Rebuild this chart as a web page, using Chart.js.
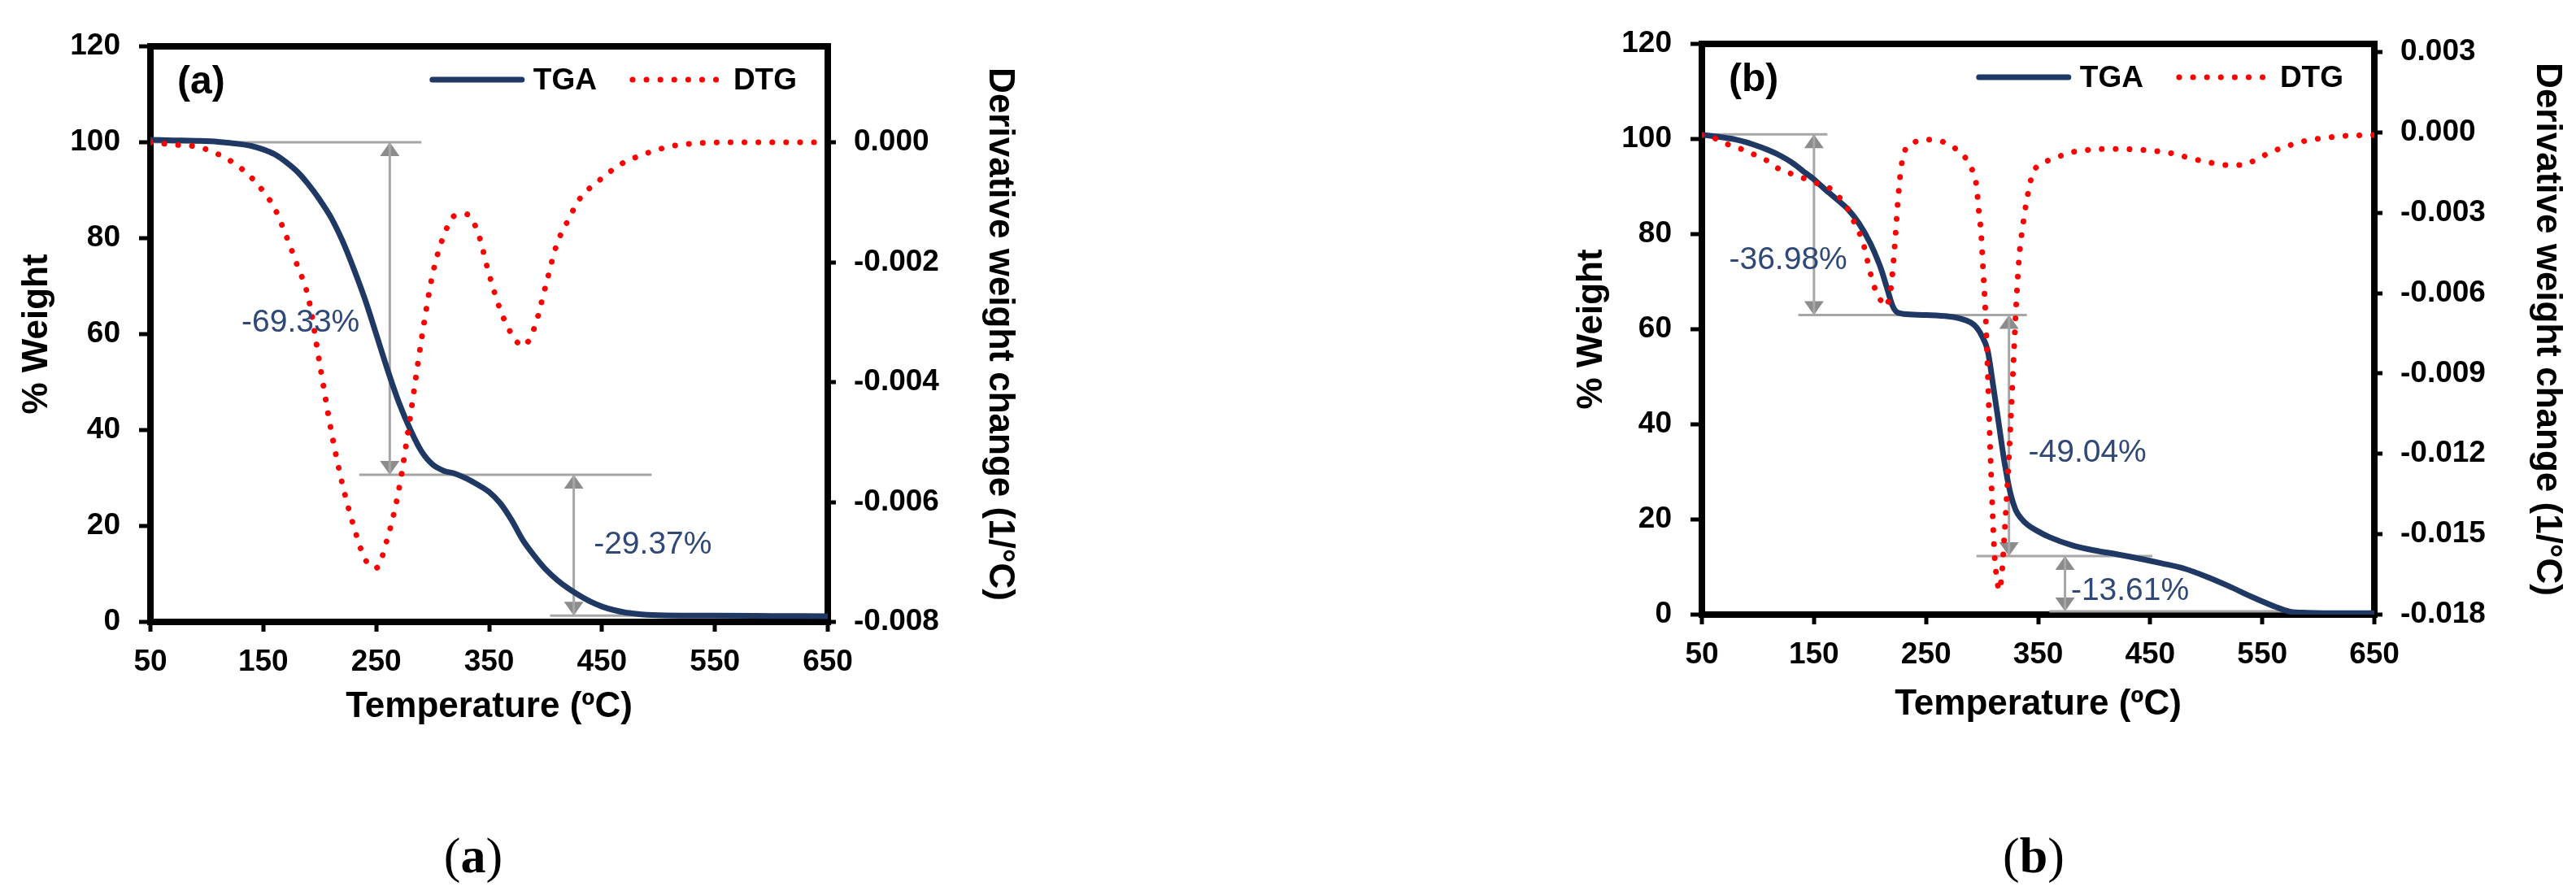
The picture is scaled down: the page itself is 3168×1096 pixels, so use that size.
<!DOCTYPE html>
<html>
<head>
<meta charset="utf-8">
<script src="https://cdn.jsdelivr.net/npm/chart.js@4.4.1/dist/chart.umd.min.js"></script>
<style>
  html, body { margin: 0; padding: 0; background: #fff; }
  body { width: 3168px; height: 1096px; position: relative; overflow: hidden; }
  canvas { position: absolute; top: 0; }
  #chartA { left: 0; }
  #chartB { left: 1908px; }
  .sub { position: absolute; top: 1012px; width: 200px; margin-left: -100px; text-align: center;
         font-family: "Liberation Serif", "Times New Roman", serif; font-size: 62px; line-height: 80px; color: #000; }
</style>
</head>
<body>
<canvas id="chartA" width="1300" height="960"></canvas>
<canvas id="chartB" width="1260" height="960"></canvas>
<div class="sub" style="left:582px">(<b>a</b>)</div>
<div class="sub" style="left:2501px">(<b>b</b>)</div>
<script>
// axis ticks
const tempTicks = [50, 150, 250, 350, 450, 550, 650];
const weightTicks = [0, 20, 40, 60, 80, 100, 120];
const derivTicksA = [-0.008, -0.006, -0.004, -0.002, 0.000];
const derivTicksB = [-0.018, -0.015, -0.012, -0.009, -0.006, -0.003, 0.000, 0.003];

// (a) TGA, % weight vs temperature
const tgaTempA = [50, 70, 90, 110, 130, 140, 150, 160, 170, 180, 190, 200, 210, 220, 230, 240, 250, 260, 270, 280, 290, 300, 310, 320, 330, 340, 350, 360, 370, 380, 390, 400, 410, 420, 430, 440, 450, 460, 470, 480, 490, 500, 550, 600, 650];
const tgaA = [100.5, 100.4, 100.3, 100.1, 99.6, 99.2, 98.5, 97.5, 95.9, 93.9, 91.2, 88.0, 84.3, 79.5, 73.7, 67.3, 60.0, 52.6, 45.8, 40.2, 35.6, 32.8, 31.5, 30.9, 29.9, 28.6, 27.1, 24.7, 21.2, 17.0, 13.8, 11.0, 8.8, 7.0, 5.5, 4.2, 3.2, 2.5, 2.0, 1.7, 1.5, 1.4, 1.3, 1.25, 1.2];

// (a) DTG, 1/°C
const dtgTempA = [50, 60, 70, 80, 90, 100, 110, 120, 130, 140, 150, 160, 170, 180, 190, 200, 210, 220, 230, 240, 250, 260, 270, 280, 290, 300, 310, 320, 330, 340, 350, 360, 370, 380, 390, 400, 410, 420, 430, 440, 450, 460, 470, 480, 490, 500, 510, 520, 540, 560, 650];
const dtgA = [0, -0.00002, -0.00004, -0.00005, -0.00007, -0.00012, -0.0002, -0.0003, -0.00043, -0.0006, -0.00082, -0.0011, -0.00155, -0.00205, -0.0026, -0.0037, -0.0048, -0.0057, -0.0064, -0.00695, -0.0071, -0.0066, -0.0058, -0.0046, -0.0033, -0.0022, -0.00155, -0.00122, -0.0012, -0.0015, -0.0022, -0.0028, -0.0032, -0.0034, -0.0031, -0.0024, -0.0017, -0.0013, -0.00095, -0.00075, -0.0006, -0.00045, -0.00033, -0.00025, -0.00018, -0.00012, -0.00007, -0.00004, -0.00001, 0, 0];

// (b) TGA
const tgaTempB = [50, 60, 70, 80, 90, 100, 110, 120, 130, 140, 150, 160, 170, 180, 190, 200, 205, 210, 215, 220, 223, 226, 230, 250, 270, 280, 290, 295, 300, 305, 310, 315, 320, 325, 330, 335, 340, 350, 360, 380, 400, 420, 440, 460, 480, 500, 520, 540, 560, 575, 590, 620, 650];
const tgaB = [100.9, 100.6, 100.3, 99.9, 99.3, 98.5, 97.6, 96.5, 95.1, 93.3, 91.5, 89.4, 87.4, 85.3, 82.3, 78.2, 75.6, 72.6, 68.8, 65.0, 63.8, 63.4, 63.2, 63.0, 62.7, 62.3, 61.4, 60.4, 58.5, 55.5, 48.0, 40.0, 32.0, 25.8, 22.0, 20.2, 19.0, 17.5, 16.3, 14.6, 13.5, 12.7, 11.8, 10.8, 9.7, 8.0, 6.0, 3.8, 1.8, 0.6, 0.4, 0.3, 0.3];

// (b) DTG
const dtgTempB = [50, 60, 70, 80, 90, 100, 110, 120, 130, 140, 150, 160, 166, 172, 178, 184, 190, 195, 200, 205, 210, 214, 217, 219, 221, 223, 225, 227, 229, 232, 238, 245, 252, 260, 268, 276, 286, 292, 295, 297, 299, 301, 303, 305, 307, 309, 311, 313, 315.5, 318, 320, 322, 324, 327, 330, 333, 336, 340, 345, 352, 365, 375, 385, 395, 410, 430, 450, 465, 480, 500, 522, 535, 545, 560, 572, 585, 600, 625, 650];
const dtgB = [-0.0001, -0.0002, -0.0004, -0.00055, -0.0007, -0.0009, -0.0011, -0.0014, -0.00155, -0.0017, -0.00187, -0.002, -0.00214, -0.0024, -0.0027, -0.0032, -0.0037, -0.0043, -0.0052, -0.0059, -0.0063, -0.0065, -0.0062, -0.0057, -0.0048, -0.0037, -0.0025, -0.0016, -0.001, -0.0006, -0.0004, -0.0003, -0.00027, -0.0003, -0.0004, -0.0006, -0.001, -0.0015, -0.002, -0.0029, -0.0037, -0.0052, -0.0067, -0.0089, -0.0115, -0.0138, -0.0157, -0.0166, -0.0171, -0.0163, -0.015, -0.0136, -0.0121, -0.0095, -0.0068, -0.0047, -0.0036, -0.0025, -0.00155, -0.0012, -0.00097, -0.0008, -0.0007, -0.00066, -0.00062, -0.00063, -0.00068, -0.00075, -0.0009, -0.0011, -0.00123, -0.0012, -0.001, -0.0007, -0.00052, -0.00035, -0.00024, -0.00013, -0.0001];

// mass-loss steps: [from °C, to °C, % weight], arrows: [°C, from %, to %], notes: [text, °C, %]
const levelsA = [[50, 290, 100], [235, 494, 30.67], [404, 650, 1.3]];
const arrowsA = [[262, 100, 30.67], [425, 30.67, 1.3]];
const notesA = [['-69.33%', 183, 62.4], ['-29.37%', 495, 16]];

const levelsB = [[50, 162, 101], [136, 340, 63], [295, 452, 12.3], [360, 570, 0.7]];
const arrowsB = [[150, 101, 63], [324, 63, 12.3], [374, 12.3, 0.7]];
const notesB = [['-36.98%', 127, 74.5], ['-49.04%', 394, 34], ['-13.61%', 432, 5]];

const FONT = '"Liberation Sans", Arial, Helvetica, sans-serif';
Chart.defaults.font.family = FONT;
Chart.defaults.color = '#000';

const pts = (xs, ys) => xs.map((t, i) => ({ x: t, y: ys[i] }));
const fixTicks = arr => ax => { ax.ticks = arr.map(v => ({ value: v })); };
const fmt3 = v => (Math.abs(v) < 1e-9 ? 0 : v).toFixed(3);

function guide(data) {
  return { label: '', data, yAxisID: 'y', borderColor: '#a6a6a6', borderWidth: 3, pointRadius: 0, tension: 0 };
}

// arrow heads, step labels, panel tag and the in-plot legend
const decor = {
  id: 'decor',
  beforeDatasetsDraw(chart, args, o) {
    const { ctx, scales: { x, y } } = chart;
    ctx.save();
    ctx.fillStyle = '#8c8c8c';
    o.arrows.forEach(([t, w0, w1]) => {
      const px = x.getPixelForValue(t);
      const p0 = y.getPixelForValue(w0), p1 = y.getPixelForValue(w1);
      [[p0, p1], [p1, p0]].forEach(([tip, other]) => {
        const s = Math.sign(other - tip);
        ctx.beginPath();
        ctx.moveTo(px, tip);
        ctx.lineTo(px - 12, tip + s * 17);
        ctx.lineTo(px + 12, tip + s * 17);
        ctx.closePath();
        ctx.fill();
      });
    });
    ctx.restore();
  },
  afterDatasetsDraw(chart, args, o) {
    const { ctx, chartArea: a, scales: { x, y } } = chart;
    ctx.save();
    ctx.textBaseline = 'middle';

    ctx.font = '39px ' + FONT;
    ctx.fillStyle = '#2f4878';
    ctx.textAlign = 'center';
    o.notes.forEach(([txt, t, w]) => ctx.fillText(txt, x.getPixelForValue(t), y.getPixelForValue(w)));

    ctx.fillStyle = '#000';
    ctx.textAlign = 'left';
    ctx.font = 'bold 48px ' + FONT;
    ctx.fillText(o.tag, a.left + 33, a.top + 45);

    // legend, laid out from the right edge
    ctx.font = 'bold 37px ' + FONT;
    const ly = a.top + 41;
    let right = a.right - 38;
    ['DTG', 'TGA'].forEach(label => {
      const ds = chart.data.datasets.find(d => d.label === label);
      const tw = ctx.measureText(label).width;
      ctx.fillText(label, right - tw, ly + 2);
      const x1 = right - tw - 14, x0 = x1 - 110;
      ctx.beginPath();
      ctx.strokeStyle = ds.borderColor;
      ctx.lineWidth = ds.borderWidth;
      ctx.lineCap = ds.borderCapStyle || 'butt';
      ctx.setLineDash(ds.borderDash || []);
      ctx.moveTo(x0, ly);
      ctx.lineTo(x1, ly);
      ctx.stroke();
      right = x0 - 44;
    });
    ctx.restore();
  }
};

function makePanel(id, p) {
  const datasets = [
    { label: 'DTG', data: pts(p.dtgT, p.dtg), yAxisID: 'y2', borderColor: '#ff0000', borderWidth: 7,
      borderDash: [0.1, 17], borderCapStyle: 'round', pointRadius: 0, cubicInterpolationMode: 'monotone' },
    { label: 'TGA', data: pts(p.tgaT, p.tga), yAxisID: 'y', borderColor: '#1f3864', borderWidth: 7,
      borderCapStyle: 'round', borderJoinStyle: 'round', pointRadius: 0, cubicInterpolationMode: 'monotone' }
  ];
  p.levels.forEach(([t0, t1, w]) => datasets.push(guide([{ x: t0, y: w }, { x: t1, y: w }])));
  p.arrows.forEach(([t, w0, w1]) => datasets.push(guide([{ x: t, y: w0 }, { x: t, y: w1 }])));

  const tickFont = { size: 37, weight: 'bold' };
  const titleFont = { size: 44, weight: 'bold' };
  const grid = len => ({ drawOnChartArea: false, drawTicks: true, tickLength: len, tickWidth: 5, tickColor: '#000', lineWidth: 8 });
  const border = { color: '#000', width: 8 };

  new Chart(document.getElementById(id), {
    type: 'line',
    data: { datasets },
    options: {
      responsive: false,
      animation: false,
      devicePixelRatio: 1,
      layout: { padding: { top: p.top, left: 0, right: 0, bottom: 0 } },
      plugins: {
        legend: { display: false },
        tooltip: { enabled: false },
        decor: { tag: p.tag, arrows: p.arrows, notes: p.notes }
      },
      scales: {
        x: {
          type: 'linear', position: 'bottom', min: 50, max: 650,
          afterBuildTicks: fixTicks(tempTicks),
          afterFit: ax => { ax.height = p.xH; },
          grid: grid(12), border,
          ticks: { font: tickFont, padding: 16, maxRotation: 0, autoSkip: false },
          title: { display: true, text: 'Temperature (ºC)', font: titleFont, padding: { top: 0, bottom: p.xPad } }
        },
        xTop: {
          type: 'linear', position: 'top', min: 50, max: 650,
          ticks: { display: false }, grid: { display: false, lineWidth: 8 }, border,
          afterFit: ax => { ax.height = 0; }
        },
        y: {
          position: 'left', min: 0, max: 120,
          afterBuildTicks: fixTicks(weightTicks),
          afterFit: ax => { ax.width = p.yW; },
          grid: grid(14), border,
          ticks: { font: tickFont, padding: 23 },
          title: { display: true, text: '% Weight', font: titleFont, padding: { top: p.yPad, bottom: 0 } }
        },
        y2: {
          position: 'right', min: p.rMin, max: p.rMax,
          afterBuildTicks: fixTicks(p.rTicks),
          afterFit: ax => { ax.width = p.y2W; },
          grid: grid(10), border,
          ticks: { font: tickFont, padding: 22, callback: fmt3 },
          title: { display: true, text: 'Derivative weight change (1/°C)', font: titleFont, padding: { top: p.y2Pad, bottom: 0 } }
        }
      }
    },
    plugins: [decor]
  });
}

makePanel('chartA', {
  tag: '(a)', tgaT: tgaTempA, tga: tgaA, dtgT: dtgTempA, dtg: dtgA,
  levels: levelsA, arrows: arrowsA, notes: notesA,
  rMin: -0.008, rMax: 0.0016, rTicks: derivTicksA,
  top: 57, yW: 185, y2W: 282, xH: 195, yPad: 19, y2Pad: 44, xPad: 64
});

makePanel('chartB', {
  tag: '(b)', tgaT: tgaTempB, tga: tgaB, dtgT: dtgTempB, dtg: dtgB,
  levels: levelsB, arrows: arrowsB, notes: notesB,
  rMin: -0.018, rMax: 0.0033, rTicks: derivTicksB,
  top: 54, yW: 185, y2W: 248, xH: 204, yPad: 23, y2Pad: 9, xPad: 67
});
</script>
</body>
</html>
